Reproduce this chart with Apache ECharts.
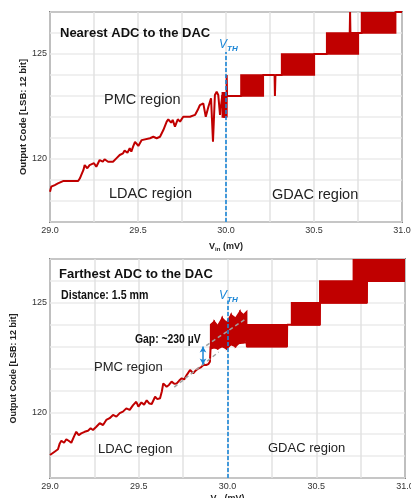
<!DOCTYPE html>
<html>
<head>
<meta charset="utf-8">
<script src="https://cdn.jsdelivr.net/npm/echarts@6/dist/echarts.min.js"></script>
<style>
html, body { margin: 0; padding: 0; background: #fff; }
#chart { width: 411px; height: 498px; }
</style>
</head>
<body>
<div id="chart"></div>
<script>
// top panel: nearest ADC, trace
const nearX = [29.000,29.007,29.017,29.027,29.045,29.055,29.074,29.140,29.160,29.170,29.178,29.190,29.197,29.212,29.225,29.235,29.250,29.263,29.273,29.282,29.300,29.310,29.330,29.358,29.377,29.396,29.415,29.424,29.440,29.453,29.462,29.472,29.483,29.502,29.521,29.530,29.568,29.587,29.606,29.625,29.644,29.663,29.672,29.688,29.697,29.710,29.726,29.739,29.757,29.795,29.824,29.839,29.852,29.871,29.885,29.900,29.915,29.926,29.937,29.947,29.956,29.966,29.979,29.985,30.003,30.004,30.006,30.085,30.212,30.276,30.278,30.281,30.316,30.502,30.572,30.703,30.705,30.707,30.770,30.964,31.000];
const nearY = [118.44,118.68,118.60,118.76,118.84,118.92,118.95,118.95,118.95,119.08,119.24,119.48,119.71,119.56,119.71,119.63,119.80,119.63,119.80,119.95,119.87,119.99,119.87,119.87,120.03,120.19,120.27,120.40,120.30,120.51,120.35,120.59,120.82,120.62,120.90,120.99,120.99,121.06,120.99,121.06,121.38,121.78,121.89,121.73,121.86,121.54,121.89,121.78,122.01,122.01,122.10,122.33,122.57,122.65,122.01,122.49,122.89,120.82,123.05,123.20,123.05,122.10,123.05,122.01,122.00,124.00,123.00,123.00,124.00,124.00,123.00,124.00,124.00,125.00,125.00,126.00,127.00,126.00,126.00,127.00,127.00];
// code toggling blocks: [x0, low0, high0, x1, low1, high1]
const nearBands = [
  [29.979, 122.0, 123.15, 30.003, 122.0, 123.15],
  [30.085, 123, 124, 30.212, 123, 124],
  [30.316, 124, 125, 30.502, 124, 125],
  [30.572, 125, 126, 30.752, 125, 126],
  [30.770, 126, 127, 30.964, 126, 127]
];

// bottom panel: farthest ADC
const farX = [29.000,29.011,29.026,29.036,29.045,29.055,29.064,29.079,29.092,29.105,29.120,29.135,29.148,29.162,29.176,29.195,29.214,29.229,29.242,29.261,29.280,29.299,29.317,29.336,29.355,29.374,29.393,29.411,29.430,29.449,29.468,29.486,29.498,29.515,29.530,29.545,29.560,29.573,29.592,29.605,29.620,29.630,29.638,29.657,29.670,29.685,29.700,29.714,29.728,29.742,29.756,29.770,29.789,29.807,29.820,29.835,29.850,29.864,29.880,29.892,29.901,29.905,30.108,30.110,30.335,30.336,30.361,30.520,30.521,30.785,30.786,31.000];
const farY = [118.05,118.13,118.20,118.13,118.31,118.58,118.70,118.61,118.77,118.70,118.61,118.89,119.11,118.96,119.04,119.11,119.16,119.27,119.19,119.34,119.50,119.42,119.65,119.73,119.88,119.80,119.96,120.03,120.18,120.11,120.33,120.48,120.26,120.45,120.35,120.55,120.40,120.38,120.71,120.60,120.64,120.95,121.32,121.17,121.25,121.40,121.30,121.32,121.45,121.55,121.50,121.70,121.93,121.78,121.90,122.00,122.05,122.16,122.16,122.20,122.31,123.00,123.20,123.00,123.00,124.00,124.00,124.00,125.00,125.00,126.00,126.00];
const farBands = [
  [29.905, 122.9, 124.0, 29.925, 122.95, 124.15],
  [29.925, 122.95, 124.15, 29.945, 122.9, 123.95],
  [29.945, 122.9, 123.95, 29.970, 123.0, 124.3],
  [29.970, 123.0, 124.3, 29.995, 122.9, 124.1],
  [29.995, 122.9, 124.1, 30.020, 123.1, 124.45],
  [30.020, 123.1, 124.45, 30.045, 123.0, 124.3],
  [30.045, 123.0, 124.3, 30.070, 123.2, 124.6],
  [30.070, 123.2, 124.6, 30.090, 123.2, 124.45],
  [30.090, 123.2, 124.45, 30.108, 123.3, 124.6],
  [30.108, 123, 124, 30.335, 123, 124],
  [30.361, 124, 125, 30.520, 124, 125],
  [30.520, 125, 126, 30.785, 125, 126],
  [30.709, 126, 127, 31.000, 126, 127]
];

const vthX = 30.0;
const vthTop = 125.1;
const gapArrow = [[29.862, 122.18], [29.862, 123.0]];
const trendLines = [
  [[29.70, 121.15], [29.95, 122.75]],
  [[29.88, 123.05], [30.10, 124.25]]
];
const yLabels = [120, 125];

const RED = '#c00000';
const BLUE = '#1b86d6';
const FONT = 'Liberation Sans, Arial, sans-serif';

function zip(xs, ys) {
  return xs.map((x, i) => [x, ys[i]]);
}

function xAxisOf(idx, gap) {
  return {
    type: 'value', gridIndex: idx, min: 29, max: 31, interval: 0.25,
    name: '{b|V}{s|in}{b| (mV)}', nameLocation: 'middle', nameGap: gap, nameMoveOverlap: false,
    nameTextStyle: {
      rich: {
        b: { fontFamily: FONT, fontWeight: 'bold', fontSize: 9, color: '#222' },
        s: { fontFamily: FONT, fontWeight: 'bold', fontSize: 6, color: '#222', padding: [5, 0, 0, 0] }
      }
    },
    axisLine: { show: false }, axisTick: { show: false },
    axisLabel: {
      fontFamily: FONT, fontSize: 9, color: '#333', margin: 4,
      showMinLabel: true, showMaxLabel: true, hideOverlap: false,
      formatter: v => Math.abs(v * 2 - Math.round(v * 2)) < 1e-6 ? v.toFixed(1) : ''
    },
    splitLine: { show: true, lineStyle: { color: '#e2e2e2', width: 1.5 } }
  };
}

function yAxisOf(idx, gap, size) {
  return {
    type: 'value', gridIndex: idx, min: 117, max: 127, interval: 1,
    name: 'Output Code [LSB: 12 bit]', nameLocation: 'middle', nameGap: gap, nameMoveOverlap: false,
    nameTextStyle: { fontFamily: FONT, fontWeight: 'bold', fontSize: size, color: '#222' },
    axisLine: { show: false }, axisTick: { show: false },
    axisLabel: {
      fontFamily: FONT, fontSize: 9, color: '#333', margin: 3,
      formatter: v => yLabels.indexOf(v) >= 0 ? String(v) : ''
    },
    splitLine: { show: true, lineStyle: { color: '#ebebeb', width: 1.5 } }
  };
}

function bandSeries(bands, idx) {
  return {
    type: 'custom', xAxisIndex: idx, yAxisIndex: idx, clip: true, silent: true,
    encode: { x: [0, 3], y: [1, 2, 4, 5] },
    data: bands,
    renderItem: function (params, api) {
      const pts = [
        api.coord([api.value(0), api.value(1)]),
        api.coord([api.value(0), api.value(2)]),
        api.coord([api.value(3), api.value(5)]),
        api.coord([api.value(3), api.value(4)])
      ];
      return { type: 'polygon', shape: { points: pts }, style: { fill: RED, stroke: RED, lineWidth: 1.5 } };
    },
    animation: false
  };
}

function vthLine() {
  return [{ coord: [vthX, 117] }, { coord: [vthX, vthTop] }];
}

const vthStyle = { color: BLUE, width: 1.6, type: [4, 2] };
const trendStyle = { color: '#a0a0a0', width: 1.5, type: [4, 3] };

function text(x, y, str, font, color, sx) {
  return {
    type: 'text', x: x, y: y, z: 100, silent: true, scaleX: sx || 1,
    style: { text: str, font: font, fill: color || '#222', align: 'left', verticalAlign: 'middle' }
  };
}

function vthLabel(x, y) {
  return {
    type: 'text', x: x, y: y, z: 100, silent: true,
    style: {
      text: '{v|V}{t|TH}', align: 'left', verticalAlign: 'middle',
      rich: {
        v: { fontFamily: FONT, fontStyle: 'italic', fontSize: 12, fill: BLUE },
        t: { fontFamily: FONT, fontStyle: 'italic', fontWeight: 'bold', fontSize: 8, fill: BLUE, padding: [7, 0, 0, 0] }
      }
    }
  };
}

const chart = echarts.init(document.getElementById('chart'));
chart.setOption({
  animation: false,
  grid: [
    { left: 50, top: 12, width: 352, height: 210, show: true, borderColor: '#222', borderWidth: 1.5,
      backgroundColor: '#fff', containLabel: false, outerBoundsMode: 'none' },
    { left: 50, top: 259, width: 355, height: 219, show: true, borderColor: '#222', borderWidth: 1.5,
      backgroundColor: '#fff', containLabel: false, outerBoundsMode: 'none' }
  ],
  xAxis: [xAxisOf(0, 19), xAxisOf(1, 15)],
  yAxis: [yAxisOf(0, 22, 9.5), yAxisOf(1, 32, 9)],
  series: [
    bandSeries(nearBands, 0),
    {
      type: 'line', xAxisIndex: 0, yAxisIndex: 0, data: zip(nearX, nearY),
      showSymbol: false, lineStyle: { color: RED, width: 2 }, silent: true,
      markLine: {
        silent: true, symbol: 'none', label: { show: false },
        lineStyle: vthStyle,
        data: [vthLine()]
      }
    },
    bandSeries(farBands, 1),
    {
      type: 'line', xAxisIndex: 1, yAxisIndex: 1, data: zip(farX, farY),
      showSymbol: false, lineStyle: { color: RED, width: 2 }, silent: true,
      markLine: {
        silent: true, symbol: 'none', label: { show: false },
        data: [
          [{ coord: trendLines[0][0], lineStyle: trendStyle }, { coord: trendLines[0][1] }],
          [{ coord: trendLines[1][0], lineStyle: trendStyle }, { coord: trendLines[1][1] }],
          [{ coord: vthLine()[0].coord, lineStyle: vthStyle }, { coord: vthLine()[1].coord }],
          [{ coord: gapArrow[0], symbol: 'arrow', symbolSize: [5, 6], lineStyle: { color: BLUE, width: 1.5, type: 'solid' } },
           { coord: gapArrow[1], symbol: 'arrow', symbolSize: [5, 6] }]
        ]
      }
    }
  ],
  graphic: [
    text(60, 33, 'Nearest ADC to the DAC', 'bold 13px ' + FONT, '#111'),
    text(104, 100, 'PMC region', '14.5px ' + FONT, '#222'),
    text(109, 194, 'LDAC region', '14.5px ' + FONT, '#222'),
    text(272, 195, 'GDAC region', '14.5px ' + FONT, '#222'),
    vthLabel(219, 45),
    text(59, 274, 'Farthest ADC to the DAC', 'bold 13px ' + FONT, '#111'),
    text(61, 296, 'Distance: 1.5 mm', 'bold 12.5px ' + FONT, '#111', 0.85),
    text(135, 340, 'Gap: ~230 µV', 'bold 12.5px ' + FONT, '#111', 0.83),
    text(94, 367, 'PMC region', '13px ' + FONT, '#222'),
    text(98, 449, 'LDAC region', '13px ' + FONT, '#222'),
    text(268, 448, 'GDAC region', '13px ' + FONT, '#222'),
    vthLabel(219, 296)
  ]
});
</script>
</body>
</html>
